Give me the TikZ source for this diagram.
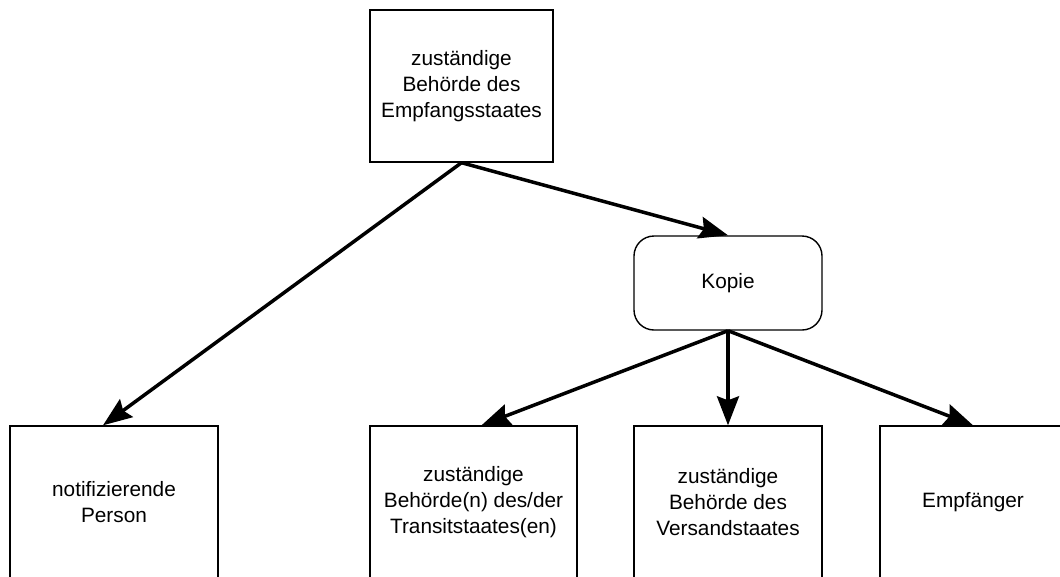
\documentclass[tikz,border=0pt]{standalone}
\usepackage{fontspec}
\setmainfont{Liberation Sans}
\usetikzlibrary{arrows.meta}

\begin{document}
\begin{tikzpicture}[x=1pt,y=-1pt,
  kasten/.style={draw,line width=1.4pt,align=center,minimum height=152pt,inner sep=0pt,font=\fontsize{20.8}{26}\selectfont},
  pfeil/.style={line width=3.5pt,-{Stealth[length=29pt,width=22pt,inset=4pt]}}]

\useasboundingbox (0,0) rectangle (1060,576) ;
\clip (0,0) rectangle (1060,576) ;

\node[kasten,minimum width=183pt] (empf_behoerde) at (461.5,86) {zuständige\\Behörde des\\Empfangsstaates} ;

\node[kasten,minimum width=188pt,minimum height=94pt,rounded corners=20pt] (kopie) at (728,283) {Kopie} ;

\node[kasten,minimum width=208pt] (person) at (114,502) {notifizierende\\Person} ;
\node[kasten,minimum width=207pt] (transit) at (473.5,502) {zuständige\\Behörde(n) des/der\\Transitstaates(en)} ;
\node[kasten,minimum width=188pt] (versand) at (728,502) {zuständige\\Behörde des\\Versandstaates} ;
\node[kasten,minimum width=186pt] (empfaenger) at (973,502) {Empfänger} ;

\draw[pfeil] (empf_behoerde.south) -- ([xshift=-11pt]person.north) ;
\draw[pfeil] (empf_behoerde.south) -- (kopie.north) ;

\draw[pfeil] (kopie.south) -- ([xshift=8pt]transit.north) ;
\draw[pfeil] (kopie.south) -- (versand.north) ;
\draw[pfeil] (kopie.south) -- (empfaenger.north) ;

\end{tikzpicture}
\end{document}
